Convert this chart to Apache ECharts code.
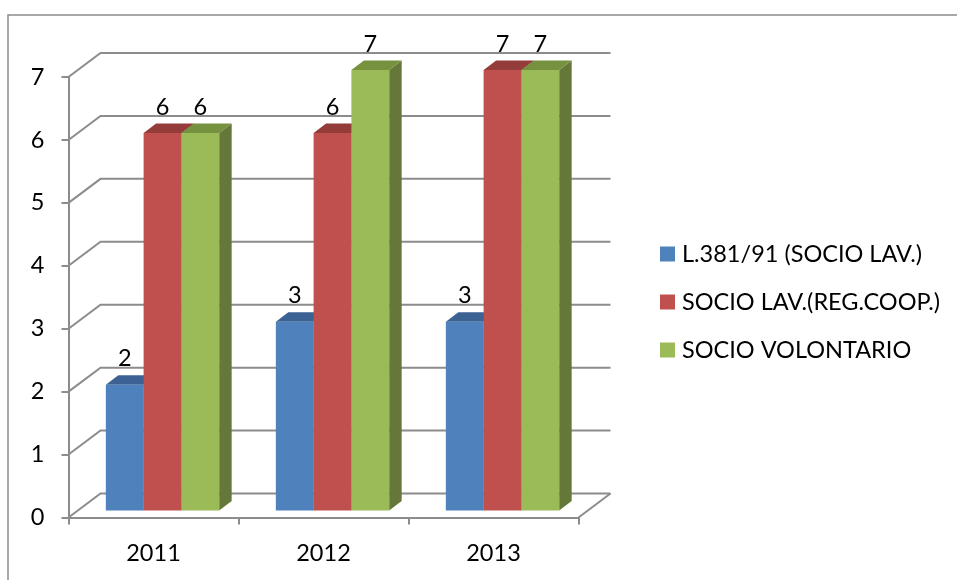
<!DOCTYPE html>
<html><head><meta charset="utf-8">
<style>html,body{margin:0;padding:0;background:#fff}#c{width:957px;height:580px}</style>
<script src="https://cdn.jsdelivr.net/npm/echarts@6/dist/echarts.min.js"></script>
</head><body><div id="c"></div>
<script>
const categories = ['2011','2012','2013'];
const ticks = [0,1,2,3,4,5,6,7];
const laborLaw = [2,3,3];
const laborCoop = [6,6,7];
const volunteer = [6,7,7];
const names = ['L.381/91 (SOCIO LAV.)','SOCIO LAV.(REG.COOP.)','SOCIO VOLONTARIO'];
const front = ['#4F81BD','#C0504D','#9BBB59'];
const topFace = ['#3B6292','#943C3A','#76923F'];
const sideFace = ['#33527A','#7C3230','#657839'];
const FONT = 'Lato';
const FS = 23.5;
const GRID = '#8C8C8C';
const WALL = {dx:32, dy:-24};
const BAR = {dx:9, dy:-7, ddx:12.5, ddy:-9.5};

function wallItem(params, api){
  const v = api.value(0);
  const w = api.coord([0,v]);
  const size = api.size([1,0])[0];
  const x0 = w[0]-size/2, y = w[1];
  return {type:'polyline', silent:true, z2:1, shape:{points:[[x0,y],[x0+WALL.dx,y+WALL.dy],[x0+WALL.dx+size*3,y+WALL.dy]]},
    style:{fill:null, stroke:GRID, lineWidth:2}};
}
function floorItem(params, api){
  const w = api.coord([2,0]);
  const size = api.size([1,0])[0];
  const x1 = w[0]+size/2, y = w[1];
  return {type:'line', silent:true, z2:1, shape:{x1:x1,y1:y,x2:x1+WALL.dx,y2:y+WALL.dy}, style:{stroke:GRID, lineWidth:2}};
}
function barRenderer(k){
  return function(params, api){
    const p = api.coord([api.value(0), api.value(1)]);
    const base = api.coord([api.value(0), 0]);
    const band = api.size([1,0])[0];
    const w = band/4.5;
    const x = p[0] + BAR.dx + (k-1.5)*w;
    const yT = p[1] + BAR.dy, yB = base[1] + BAR.dy;
    const d = BAR.ddx, e = BAR.ddy;
    return {type:'group', children:[
      {type:'polygon', shape:{points:[[x+w,yT],[x+w+d,yT+e],[x+w+d,yB+e],[x+w,yB]]}, style:{fill:sideFace[k]}},
      {type:'polygon', shape:{points:[[x,yT],[x+d,yT+e],[x+w+d,yT+e],[x+w,yT]]}, style:{fill:topFace[k]}},
      {type:'rect', shape:{x:x,y:yT,width:w,height:yB-yT}, style:{fill:front[k]}},
      {type:'text', z2:50, style:{text:String(api.value(1)), x:x+w/2, y:yT-26, fill:'#000', font:FS+'px '+FONT, textAlign:'center', textVerticalAlign:'middle'}}
    ]};
  };
}
const valueSets = [laborLaw, laborCoop, volunteer];
const chart = echarts.init(document.getElementById('c'), null, {renderer:'canvas'});
chart.setOption({
  animation:false,
  backgroundColor:'#fff',
  graphic:[{type:'polyline', silent:true, shape:{points:[[8,580],[8,15],[957,15]]}, style:{fill:null, stroke:'#8C8C8C', lineWidth:1.5}}],
  grid:{left:68.5, top:77, width:510, height:440.5, containLabel:false},
  legend:{show:true, orient:'vertical', left:660, top:242, padding:0, itemWidth:15, itemHeight:15, itemGap:24, icon:'rect',
    data:names, textStyle:{fontFamily:FONT, fontSize:FS, color:'#000', padding:[0,0,0,2]}},
  xAxis:{type:'category', data:categories, boundaryGap:true,
    axisLine:{lineStyle:{color:GRID,width:2}}, axisTick:{show:true,alignWithLabel:false,length:7,lineStyle:{color:GRID,width:2}},
    axisLabel:{fontFamily:FONT,fontSize:FS,color:'#000',margin:24,interval:0}},
  yAxis:{type:'value', min:0, max:7, interval:1,
    axisLine:{show:true,lineStyle:{color:GRID,width:2}}, axisTick:{show:true,length:7,lineStyle:{color:GRID,width:2}},
    splitLine:{show:false},
    axisLabel:{fontFamily:FONT,fontSize:FS,color:'#000',margin:24,align:'right',padding:[3,0,0,0],formatter:v=>String(v)}},
  series:[
    {type:'custom', name:'_wall', coordinateSystem:'cartesian2d', silent:true, z:1, encode:{y:0}, data:ticks.map(t=>[t]), renderItem:wallItem},
    {type:'custom', name:'_floor', coordinateSystem:'cartesian2d', silent:true, z:1, data:[[0]], renderItem:floorItem}
  ].concat(names.map((n,k)=>({
    type:'custom', name:n, coordinateSystem:'cartesian2d', z:5+k,
    itemStyle:{color:front[k]}, encode:{x:0,y:1},
    data:valueSets[k].map((v,i)=>[categories[i],v]),
    renderItem:barRenderer(k)
  })))
});
</script></body></html>
